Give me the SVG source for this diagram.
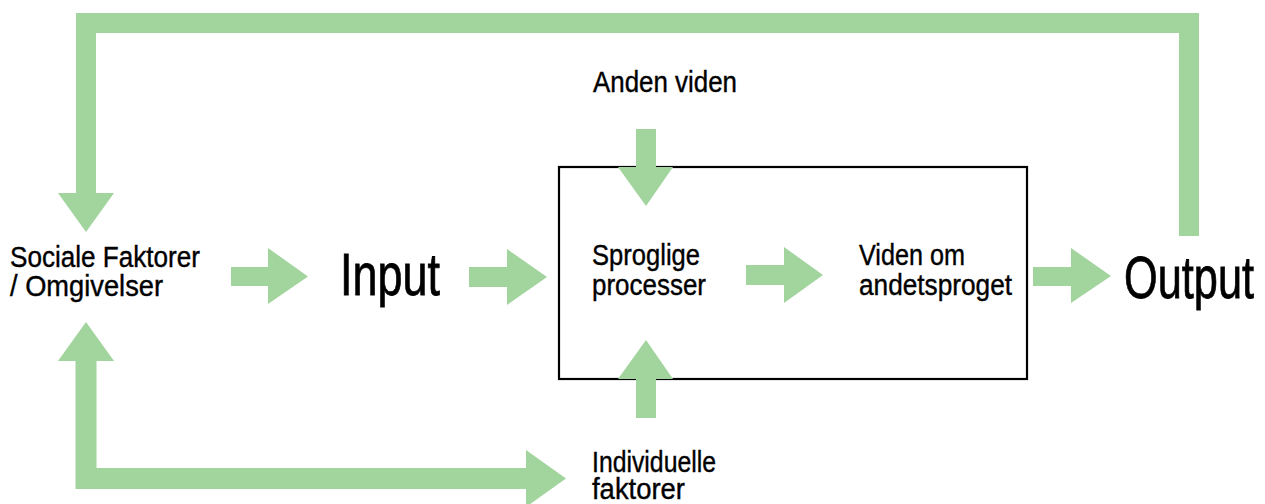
<svg xmlns="http://www.w3.org/2000/svg" width="1265" height="504" viewBox="0 0 1265 504">
<style>
.t{font-family:"Liberation Sans",Arial,sans-serif;font-size:30px;fill:#000;stroke:#000;stroke-width:0.4;}
.big{font-size:60px;stroke-width:0.8;}
.ar{fill:#A2D49E;}
.ln{fill:none;stroke:#A2D49E;stroke-linejoin:miter;stroke-linecap:butt;}
</style>
<rect width="1265" height="504" fill="#fff"/>
<g id="box">
<rect x="559" y="167" width="468" height="212" fill="none" stroke="#000" stroke-width="2.2"/>
</g>
<g id="connectors">
<path class="ln" stroke-width="20" d="M1189 236 V23 H86 V194"/>
<polygon class="ar" points="58,193 114,193 86,232"/>
<path class="ln" stroke-width="21" d="M86 360 V478.5 H527"/>
<polygon class="ar" points="58,361 114,361 86,322"/>
<polygon class="ar" points="526,450 526,507 566,478.5"/>
<polygon class="ar" points="231,267 268,267 268,248 308,276.5 268,304 268,286 231,286"/>
<polygon class="ar" points="469,267 507,267 507,249 547,277 507,305 507,287 469,287"/>
<polygon class="ar" points="746,265 784,265 784,247 823,275 784,303 784,285 746,285"/>
<polygon class="ar" points="1033,267 1071,267 1071,248 1111,276 1071,303 1071,286 1033,286"/>
<polygon class="ar" points="636,129 656,129 656,167 673,167 646,206 618,167 636,167"/>
<polygon class="ar" points="636,418 656,418 656,379 673,379 646,340 618,379 636,379"/>
</g>
<g id="sociale">
<text class="t" x="10" y="267" textLength="190" lengthAdjust="spacingAndGlyphs">Sociale Faktorer</text>
<text class="t" x="10" y="296" textLength="153" lengthAdjust="spacingAndGlyphs">/ Omgivelser</text>
</g>
<g id="input">
<text class="t big" x="340" y="295" textLength="100" lengthAdjust="spacingAndGlyphs">Input</text>
</g>
<g id="anden">
<text class="t" x="593" y="92" textLength="144" lengthAdjust="spacingAndGlyphs">Anden viden</text>
</g>
<g id="sproglige">
<text class="t" x="592" y="265" textLength="108" lengthAdjust="spacingAndGlyphs">Sproglige</text>
<text class="t" x="592" y="295" textLength="114" lengthAdjust="spacingAndGlyphs">processer</text>
</g>
<g id="viden">
<text class="t" x="859" y="265" textLength="106" lengthAdjust="spacingAndGlyphs">Viden om</text>
<text class="t" x="859" y="295" textLength="153" lengthAdjust="spacingAndGlyphs">andetsproget</text>
</g>
<g id="output">
<text class="t big" x="1124" y="298" textLength="130" lengthAdjust="spacingAndGlyphs">Output</text>
</g>
<g id="individuelle">
<text class="t" x="592" y="472" textLength="124" lengthAdjust="spacingAndGlyphs">Individuelle</text>
<text class="t" x="592" y="499" textLength="93" lengthAdjust="spacingAndGlyphs">faktorer</text>
</g>
</svg>
